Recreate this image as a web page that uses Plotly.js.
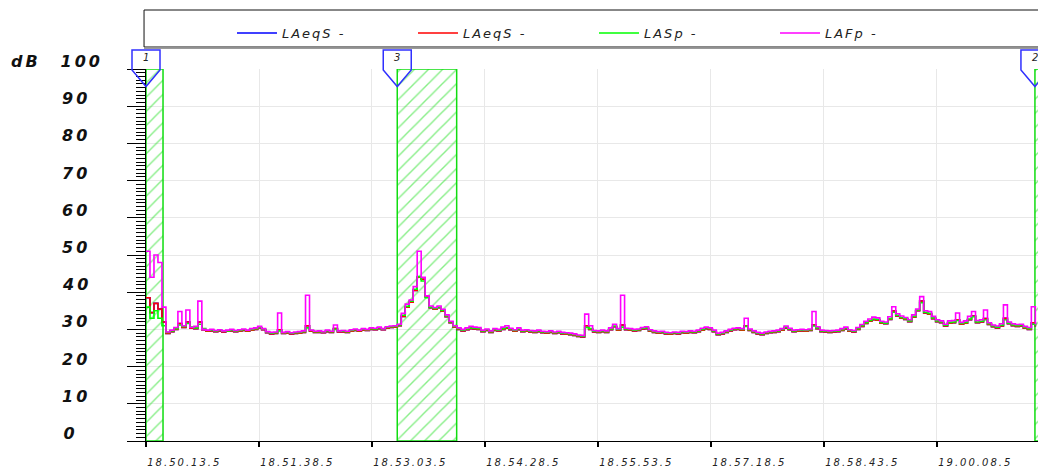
<!DOCTYPE html>
<html>
<head>
<meta charset="utf-8">
<script src="https://cdn.plot.ly/plotly-3.0.1.min.js"></script>
<style>
html,body{margin:0;padding:0;background:#fff;}
#chart{width:1038px;height:469px;}
.xtick text{letter-spacing:2px;}
.legendtext{letter-spacing:2px;}
.annotation text{letter-spacing:3px;}
.annotation[data-index="0"] text,.annotation[data-index="1"] text,.annotation[data-index="2"] text{letter-spacing:0;}
</style>
</head>
<body>
<div id="chart"></div>
<script>
// ---- axis ticks ----
const xTickVals = [0, 85, 170, 255, 340, 425, 510, 595];
const xTickText = ['18.50.13.5','18.51.38.5','18.53.03.5','18.54.28.5','18.55.53.5','18.57.18.5','18.58.43.5','19.00.08.5'];
const xRange = [0, 671];
const yTickVals = [0,10,20,30,40,50,60,70,80,90,100];
const yTickText = ['0','10','20','30','40','50','60','70','80','90','100'];
const yRange = [0, 100];
const yUnit = 'dB';

// ---- sampling (seconds from 18.50.13.5) ----
const sampleStart = 0;
const sampleStep = 3;

// ---- series (dB) ----
const LAFp = [
 51,44,50,48,36,29.3,29.8,30.5,34.8,31.0,
 35.2,30.5,30.8,37.6,30.0,29.8,30.0,29.7,29.9,29.6,
 29.8,30.0,29.7,29.9,30.1,29.8,30.2,30.4,30.8,30.2,
 29.4,29.2,29.3,34.4,29.2,29.4,29.1,29.3,29.4,29.6,
 39.2,29.8,29.5,29.6,29.4,29.8,29.5,31.2,29.6,29.7,
 29.5,29.9,30.1,29.8,30.2,30.0,30.4,30.3,30.6,30.2,
 30.7,30.9,31.0,31.4,34.3,36.8,37.9,41.5,51.0,44.0,
 39.0,36.3,35.9,36.3,35.4,33.9,32.2,31.0,30.4,30.0,
 30.4,30.8,30.6,30.5,29.8,30.1,29.6,30.2,30.0,30.6,
 31.0,30.3,29.9,30.4,29.8,29.9,29.7,29.6,29.8,29.5,
 29.4,29.6,29.3,29.5,29.2,29.1,29.0,28.8,28.5,28.4,
 34.1,31.0,29.7,29.6,29.8,29.6,30.4,31.4,30.2,39.2,
 30.3,30.2,30.0,30.1,30.5,30.7,29.9,29.6,29.4,29.5,
 29.2,29.1,29.3,29.2,29.5,29.4,29.6,29.5,29.8,30.3,
 30.6,30.4,29.8,29.0,29.2,29.6,30.0,30.3,30.4,30.2,
 33.0,30.1,29.6,29.2,29.0,29.3,29.5,29.6,29.8,30.2,
 30.9,30.3,29.8,29.9,30.0,29.9,30.1,34.8,30.7,29.8,
 29.7,29.6,29.7,29.8,30.2,30.6,29.9,29.7,30.5,31.3,
 32.2,32.8,33.3,33.1,32.2,32.0,33.4,36.1,34.2,33.6,
 33.2,32.6,33.9,35.5,38.8,35.0,34.8,33.5,32.6,32.3,
 31.4,32.3,32.4,34.4,31.9,32.3,33.5,34.8,32.4,32.6,
 35.2,31.8,31.2,30.9,31.5,36.6,32.0,31.5,31.3,31.4,
 30.8,30.5,36.1,31.3
];
const LASp = [
 36,33,35,33,31,29.2,29.6,30.2,31.2,30.8,
 31.6,30.6,30.4,31.4,30.2,29.7,29.8,29.6,29.8,29.5,
 29.6,29.8,29.6,29.7,29.9,29.7,30.0,30.2,30.5,30.1,
 29.3,29.0,29.1,29.6,29.1,29.2,29.0,29.1,29.2,29.4,
 30.4,29.7,29.4,29.4,29.3,29.6,29.4,30.0,29.5,29.5,
 29.4,29.7,29.9,29.7,30.0,29.9,30.2,30.1,30.4,30.1,
 30.5,30.7,30.8,31.2,33.8,36.2,37.6,40.8,44.2,43.0,
 38.5,36.0,35.6,36.0,35.1,33.6,32.0,30.8,30.2,29.8,
 30.1,30.4,30.3,30.2,29.6,29.9,29.4,29.9,29.8,30.2,
 30.5,30.1,29.7,30.1,29.6,29.7,29.5,29.4,29.6,29.3,
 29.2,29.4,29.1,29.3,29.0,28.9,28.8,28.6,28.3,28.2,
 30.5,30.2,29.5,29.4,29.6,29.4,30.1,30.9,30.0,30.6,
 30.1,30.0,29.8,29.9,30.3,30.4,29.7,29.4,29.2,29.3,
 29.0,28.9,29.1,29.0,29.3,29.2,29.4,29.3,29.6,30.0,
 30.4,30.2,29.6,28.8,29.0,29.4,29.8,30.1,30.2,30.0,
 30.8,29.9,29.4,29.0,28.8,29.1,29.3,29.4,29.6,30.0,
 30.6,30.1,29.6,29.7,29.8,29.7,29.9,30.9,30.4,29.6,
 29.5,29.4,29.5,29.6,29.9,30.3,29.7,29.5,30.2,31.0,
 31.8,32.4,32.8,32.7,31.9,31.7,32.9,34.6,33.8,33.2,
 32.9,32.3,33.5,35.2,37.2,34.6,34.3,33.1,32.3,32.0,
 31.1,31.9,32.0,32.4,31.6,31.9,32.8,33.4,32.0,32.2,
 32.6,31.5,30.9,30.6,31.1,32.6,31.7,31.2,31.0,31.1,
 30.5,30.2,31.4,31.0
];
const LAeqS = [
 38.5,34.5,37.0,35.5,32.0,28.9,29.4,30.0,31.6,30.5,
 32.0,30.3,30.2,32.0,29.9,29.5,29.6,29.4,29.6,29.3,
 29.5,29.6,29.4,29.5,29.7,29.5,29.8,30.0,30.4,29.9,
 29.1,28.8,28.9,29.9,28.9,29.0,28.8,28.9,29.0,29.2,
 31.0,29.5,29.2,29.2,29.1,29.4,29.2,30.2,29.3,29.3,
 29.2,29.5,29.7,29.5,29.8,29.7,30.0,29.9,30.2,29.9,
 30.3,30.5,30.6,31.0,33.5,36.0,37.3,40.5,44.0,43.5,
 38.8,35.8,35.4,35.8,34.9,33.4,31.8,30.6,30.0,29.6,
 29.9,30.2,30.1,30.0,29.4,29.7,29.2,29.7,29.6,30.0,
 30.3,29.9,29.5,29.9,29.4,29.5,29.3,29.2,29.4,29.1,
 29.0,29.2,28.9,29.1,28.8,28.7,28.6,28.4,28.1,28.0,
 31.0,30.0,29.3,29.2,29.4,29.2,29.9,30.7,29.8,31.2,
 29.9,29.8,29.6,29.7,30.1,30.2,29.5,29.2,29.0,29.1,
 28.8,28.7,28.9,28.8,29.1,29.0,29.2,29.1,29.4,29.8,
 30.2,30.0,29.4,28.6,28.8,29.2,29.6,29.9,30.0,29.8,
 31.0,29.7,29.2,28.8,28.6,28.9,29.1,29.2,29.4,29.8,
 30.4,29.9,29.4,29.5,29.6,29.5,29.7,31.2,30.2,29.4,
 29.3,29.2,29.3,29.4,29.7,30.1,29.5,29.3,30.0,30.8,
 31.6,32.2,32.6,32.5,31.7,31.5,32.7,34.9,33.6,33.0,
 32.7,32.1,33.3,35.0,37.6,34.4,34.1,32.9,32.1,31.8,
 30.9,31.7,31.8,32.6,31.4,31.7,32.6,33.6,31.8,32.0,
 32.9,31.3,30.7,30.4,30.9,33.0,31.5,31.0,30.8,30.9,
 30.3,30.0,31.8,30.8
];
const seriesNames = ['LAeqS -','LAeqS -','LASp -','LAFp -'];
const seriesValues = [LAeqS, LAeqS, LASp, LAFp];
const seriesColors = ['#0000ff','#ff0000','#00ff00','#ff00ff'];

// ---- cursors & marked regions (seconds) ----
const cursorLabels = ['1','3','2'];
const cursorTimes = [0, 189, 668.7];
const regionStarts = [0, 189, 668.7];
const regionEnds = [12.8, 233.7, 700];

const traces = [];
regionStarts.forEach((s, i) => {
  const e = regionEnds[i];
  traces.push({
    type:'scatter', mode:'lines',
    x:[s, s, e, e, s], y:[yRange[0], yRange[1], yRange[1], yRange[0], yRange[0]],
    fill:'toself', fillcolor:'rgba(0,0,0,0)',
    fillpattern:{shape:'/', fgcolor:'#10dd10', bgcolor:'rgba(0,0,0,0)', size:10, solidity:0.14, fillmode:'overlay'},
    line:{color:'#10dd10', width:1.5},
    showlegend:false, hoverinfo:'skip'
  });
});
seriesValues.forEach((vals, i) => {
  traces.push({
    type:'scatter', mode:'lines', name:seriesNames[i],
    x0:sampleStart, dx:sampleStep, y:vals,
    line:{color:seriesColors[i], width:1.6, shape:'hv'},
    hoverinfo:'skip'
  });
});

const italic = (size, color, weight) => ({family:'DejaVu Sans', size:size, style:'italic', color:color, weight:weight || 'normal'});
const annotations = [];
cursorLabels.forEach((lab, i) => {
  annotations.push({xref:'x', x:cursorTimes[i], yref:'paper', y:1, yanchor:'middle', yshift:12,
    text:lab, showarrow:false, font:italic(10, '#222')});
});
yTickVals.forEach((v, i) => {
  annotations.push({xref:'paper', x:-0.093, xanchor:'left', yref:'y', y:v, yanchor:'bottom', yshift:-4,
    text:yTickText[i], showarrow:false, font:italic(16, '#111', 'bold')});
});
annotations.push({xref:'paper', x:-0.150, xanchor:'left', yref:'y', y:yRange[1], yanchor:'bottom', yshift:-4,
  text:yUnit, showarrow:false, font:italic(16, '#111', 'bold')});

const shapes = [
  {type:'rect', xref:'paper', yref:'paper', x0:-0.0022, x1:1.05, y0:1.0591, y1:1.1586,
   line:{color:'#111', width:1}, fillcolor:'rgba(0,0,0,0)'},
  {type:'line', xref:'paper', yref:'paper', x0:-0.0022, x1:1.05, y0:1.0555, y1:1.0555,
   line:{color:'#9a9a9a', width:1.5}}
];
cursorTimes.forEach(t => {
  shapes.push({type:'path', xref:'x domain', yref:'paper', xsizemode:'pixel', ysizemode:'pixel',
    xanchor:(t - xRange[0]) / (xRange[1] - xRange[0]), yanchor:1,
    path:'M-14,19L14,19L14,-1L0,-17.5L-14,-1Z',
    line:{color:'#3030ff', width:1.5}, fillcolor:'rgba(0,0,0,0)', layer:'above'});
});

const layout = {
  width:1038, height:469,
  margin:{l:146, r:0, t:69, b:28, pad:0},
  paper_bgcolor:'#fff', plot_bgcolor:'#fff',
  font:{family:'DejaVu Sans', size:12, color:'#111'},
  showlegend:true,
  legend:{orientation:'h', x:0.0964, xanchor:'left', y:1.0968, yanchor:'middle',
    bgcolor:'rgba(0,0,0,0)', borderwidth:0, entrywidth:126, entrywidthmode:'pixels',
    itemwidth:40, font:italic(13, '#222'), itemclick:false, itemdoubleclick:false},
  xaxis:{type:'linear', range:xRange, tickmode:'array', tickvals:xTickVals, ticktext:xTickText,
    ticks:'outside', ticklen:5, tickwidth:1.5, tickcolor:'#000', ticklabelstandoff:12,
    showline:true, linecolor:'#000', linewidth:1, showgrid:true, gridcolor:'#e8e8e8', gridwidth:1,
    zeroline:false, ticklabelposition:'outside right', tickfont:italic(10, '#222'), fixedrange:true},
  yaxis:{range:yRange, tickmode:'array', tickvals:yTickVals, showticklabels:false,
    ticks:'outside', ticklen:18, tickwidth:1, tickcolor:'#000',
    showline:true, linecolor:'#000', linewidth:1, showgrid:true, gridcolor:'#e8e8e8', gridwidth:1,
    zeroline:false, fixedrange:true,
    minor:{tickmode:'linear', tick0:0, dtick:1, ticks:'outside', ticklen:9, tickwidth:1, tickcolor:'#000', showgrid:false}},
  hovermode:false,
  shapes:shapes,
  annotations:annotations
};

Plotly.newPlot('chart', traces, layout, {displayModeBar:false, staticPlot:true});
</script>
</body>
</html>
